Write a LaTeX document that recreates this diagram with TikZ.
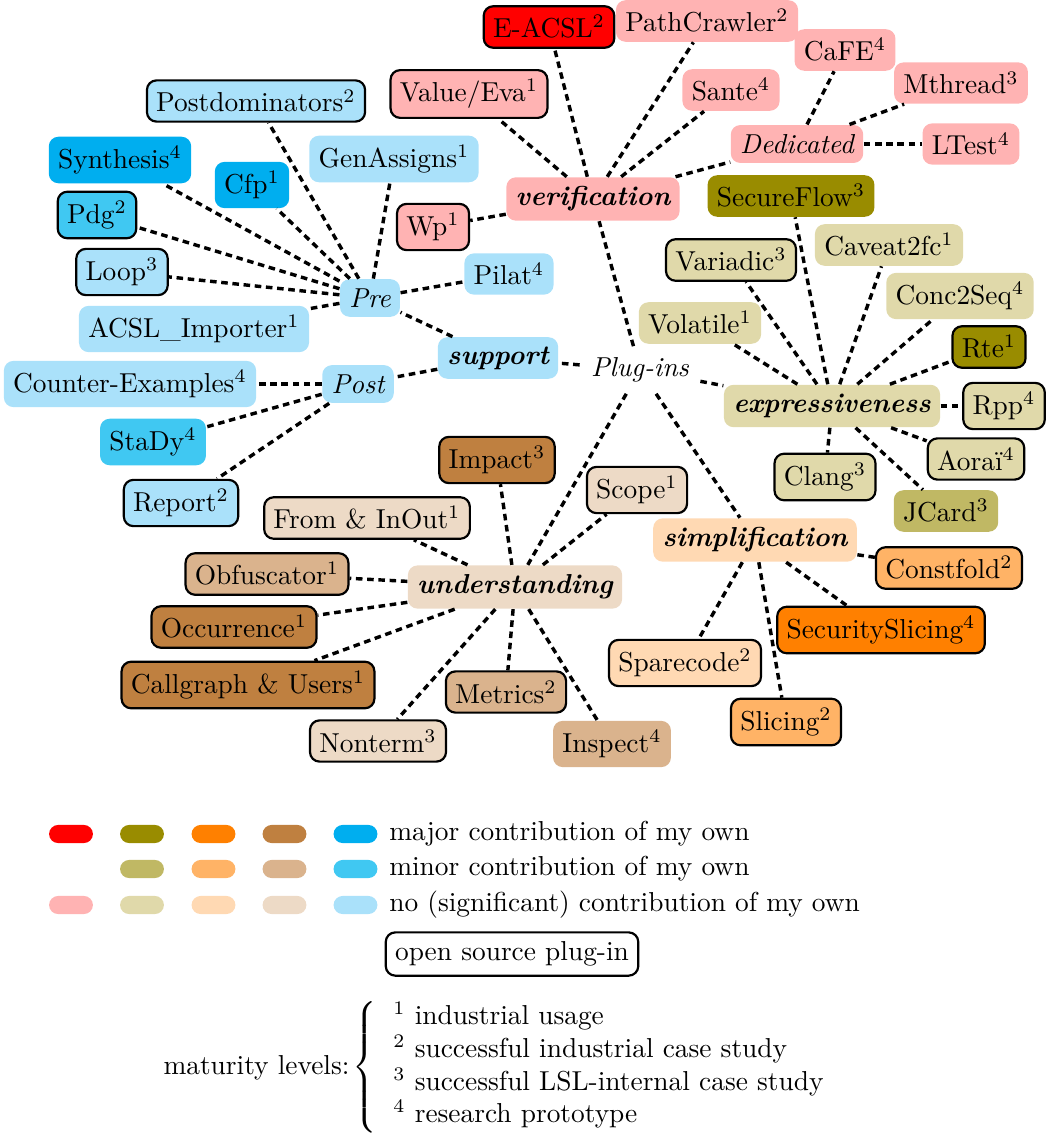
\documentclass[tikz,border=0pt]{standalone}
\usetikzlibrary{positioning}
\definecolor{majRed}{RGB}{255,0,0}
\definecolor{majOlive}{RGB}{153,140,0}
\definecolor{majOrange}{RGB}{255,128,0}
\definecolor{majBrown}{RGB}{191,128,64}
\definecolor{majBlue}{RGB}{0,174,239}
\definecolor{minOlive}{RGB}{192,184,100}
\definecolor{minOrange}{RGB}{255,179,102}
\definecolor{minBrown}{RGB}{218,179,141}
\definecolor{minBlue}{RGB}{64,200,242}
\definecolor{lightPink}{RGB}{255,179,179}
\definecolor{lightOlive}{RGB}{224,217,170}
\definecolor{lightOrange}{RGB}{255,217,179}
\definecolor{lightBrown}{RGB}{237,218,198}
\definecolor{lightBlue}{RGB}{170,225,250}
\tikzset{
  plug/.style={rounded corners=3.5pt, inner sep=3.4pt},
  osrc/.style={draw=black, line width=0.8pt},
  cat/.style={plug, font=\bfseries\itshape},
  subcat/.style={plug, font=\itshape},
  link/.style={line width=1.25pt, dash pattern=on 2.4pt off 1.7pt},
  pill/.style={minimum width=16pt, minimum height=6.6pt, inner sep=0pt, rounded corners=3.3pt},
}
\begin{document}
\begin{tikzpicture}[x=0.365pt, y=-0.365pt]
\useasboundingbox (0,0) rectangle (1051,1135);

% center
\node[font=\itshape, inner sep=4pt] (plugins) at (640,370) {Plug-ins};

% verification
\node[cat, fill=lightPink] (verification) at (593,199) {verification};
\node[plug, osrc, fill=majRed] (eacsl) at (549,27) {E-ACSL$^2$};
\node[plug, fill=lightPink] (pathcrawler) at (707,21) {PathCrawler$^2$};
\node[plug, fill=lightPink] (cafe) at (845,50) {CaFE$^4$};
\node[plug, fill=lightPink] (mthread) at (961,83) {Mthread$^3$};
\node[plug, fill=lightPink] (sante) at (731,90) {Sante$^4$};
\node[plug, osrc, fill=lightPink] (value) at (469,94) {Value/Eva$^1$};
\node[subcat, fill=lightPink] (dedicated) at (797,144) {Dedicated};
\node[plug, fill=lightPink] (ltest) at (971,144) {LTest$^4$};
\node[plug, osrc, fill=lightPink] (wp) at (433,227) {Wp$^1$};

% support
\node[cat, fill=lightBlue] (support) at (498,358) {support};
\node[subcat, fill=lightBlue] (pre) at (370,298) {Pre};
\node[subcat, fill=lightBlue] (post) at (358,384) {Post};
\node[plug, osrc, fill=lightBlue] (postdom) at (256,101) {Postdominators$^2$};
\node[plug, fill=lightBlue] (genassigns) at (394,159) {GenAssigns$^1$};
\node[plug, fill=majBlue] (synthesis) at (120,160) {Synthesis$^4$};
\node[plug, fill=majBlue] (cfp) at (252,185) {Cfp$^1$};
\node[plug, osrc, fill=minBlue] (pdg) at (97,215) {Pdg$^2$};
\node[plug, osrc, fill=lightBlue] (loop) at (122,272) {Loop$^3$};
\node[plug, fill=lightBlue] (pilat) at (509,274) {Pilat$^4$};
\node[plug, fill=lightBlue] (acslimp) at (194,329) {ACSL\_Importer$^1$};
\node[plug, fill=lightBlue] (counterex) at (130,384) {Counter-Examples$^4$};
\node[plug, fill=minBlue] (stady) at (153,442) {StaDy$^4$};
\node[plug, osrc, fill=lightBlue] (report) at (181,503) {Report$^2$};

% expressiveness
\node[cat, fill=lightOlive] (express) at (832,406) {expressiveness};
\node[plug, fill=majOlive] (secureflow) at (791,196) {SecureFlow$^3$};
\node[plug, osrc, fill=lightOlive] (variadic) at (731,260) {Variadic$^3$};
\node[plug, fill=lightOlive] (caveat) at (889,245) {Caveat2fc$^1$};
\node[plug, fill=lightOlive] (conc) at (960,296) {Conc2Seq$^4$};
\node[plug, fill=lightOlive] (volatile) at (700,323) {Volatile$^1$};
\node[plug, osrc, fill=majOlive] (rte) at (989,347) {Rte$^1$};
\node[plug, osrc, fill=lightOlive] (rpp) at (1004,406) {Rpp$^4$};
\node[plug, osrc, fill=lightOlive] (aorai) at (976,459) {Aoraï$^4$};
\node[plug, osrc, fill=lightOlive] (clang) at (825,477) {Clang$^3$};
\node[plug, fill=minOlive] (jcard) at (946,511) {JCard$^3$};

% simplification
\node[cat, fill=lightOrange] (simpl) at (755,540) {simplification};
\node[plug, osrc, fill=minOrange] (constfold) at (949,568) {Constfold$^2$};
\node[plug, osrc, fill=majOrange] (secslicing) at (881,630) {SecuritySlicing$^4$};
\node[plug, osrc, fill=lightOrange] (sparecode) at (685,663) {Sparecode$^2$};
\node[plug, osrc, fill=minOrange] (slicing) at (786,722) {Slicing$^2$};

% understanding
\node[cat, fill=lightBrown] (underst) at (515,587) {understanding};
\node[plug, osrc, fill=majBrown] (impact) at (497,460) {Impact$^3$};
\node[plug, osrc, fill=lightBrown] (scope) at (637,490) {Scope$^1$};
\node[plug, osrc, fill=lightBrown] (frominout) at (367,518) {From \& InOut$^1$};
\node[plug, osrc, fill=minBrown] (obfusc) at (267,574) {Obfuscator$^1$};
\node[plug, osrc, fill=majBrown] (occur) at (234,627) {Occurrence$^1$};
\node[plug, osrc, fill=majBrown] (callgraph) at (248,685) {Callgraph \& Users$^1$};
\node[plug, osrc, fill=minBrown] (metrics) at (506,692) {Metrics$^2$};
\node[plug, osrc, fill=lightBrown] (nonterm) at (378,741) {Nonterm$^3$};
\node[plug, fill=minBrown] (inspect) at (612,744) {Inspect$^4$};

% edges
\foreach \c in {verification,support,express,simpl,underst}
  \draw[link] (plugins) -- (\c);
\foreach \c in {eacsl,pathcrawler,sante,value,dedicated,wp}
  \draw[link] (verification) -- (\c);
\foreach \c in {cafe,mthread,ltest}
  \draw[link] (dedicated) -- (\c);
\foreach \c in {pre,post}
  \draw[link] (support) -- (\c);
\foreach \c in {postdom,genassigns,synthesis,cfp,pdg,loop,pilat,acslimp}
  \draw[link] (pre) -- (\c);
\foreach \c in {counterex,stady,report}
  \draw[link] (post) -- (\c);
\foreach \c in {secureflow,variadic,caveat,conc,volatile,rte,rpp,aorai,clang,jcard}
  \draw[link] (express) -- (\c);
\foreach \c in {constfold,secslicing,sparecode,slicing}
  \draw[link] (simpl) -- (\c);
\foreach \c in {impact,scope,frominout,obfusc,occur,callgraph,metrics,nonterm,inspect}
  \draw[link] (underst) -- (\c);

% legend
\node[pill, fill=majRed] (l11) at (71,834) {};
\node[pill, fill=majOlive] (l12) at (142,834) {};
\node[pill, fill=majOrange] (l13) at (213.5,834) {};
\node[pill, fill=majBrown] (l14) at (284.5,834) {};
\node[pill, fill=majBlue] (l15) at (355.5,834) {};
\node[pill, fill=minOlive] (l22) at (142,869) {};
\node[pill, fill=minOrange] (l23) at (213.5,869) {};
\node[pill, fill=minBrown] (l24) at (284.5,869) {};
\node[pill, fill=minBlue] (l25) at (355.5,869) {};
\node[pill, fill=lightPink] (l31) at (71,905) {};
\node[pill, fill=lightOlive] (l32) at (142,905) {};
\node[pill, fill=lightOrange] (l33) at (213.5,905) {};
\node[pill, fill=lightBrown] (l34) at (284.5,905) {};
\node[pill, fill=lightBlue] (l35) at (355.5,905) {};
\node[anchor=west, inner sep=1pt] (t1) at (386,834) {major contribution of my own};
\node[anchor=west, inner sep=1pt] (t2) at (386,869) {minor contribution of my own};
\node[anchor=west, inner sep=1pt] (t3) at (386,905) {no (significant) contribution of my own};
\node[plug, osrc] (opensrc) at (512,954) {open source plug-in};
\node[anchor=east, inner sep=0pt] (matlab) at (350,1068) {maturity levels:};
\node[anchor=west, inner sep=0pt] (matlist) at (352,1067) {$\left\{\begin{tabular}{l}
$^1$ industrial usage\\
$^2$ successful industrial case study\\
$^3$ successful LSL-internal case study\\
$^4$ research prototype
\end{tabular}\right.$};
\end{tikzpicture}
\end{document}
